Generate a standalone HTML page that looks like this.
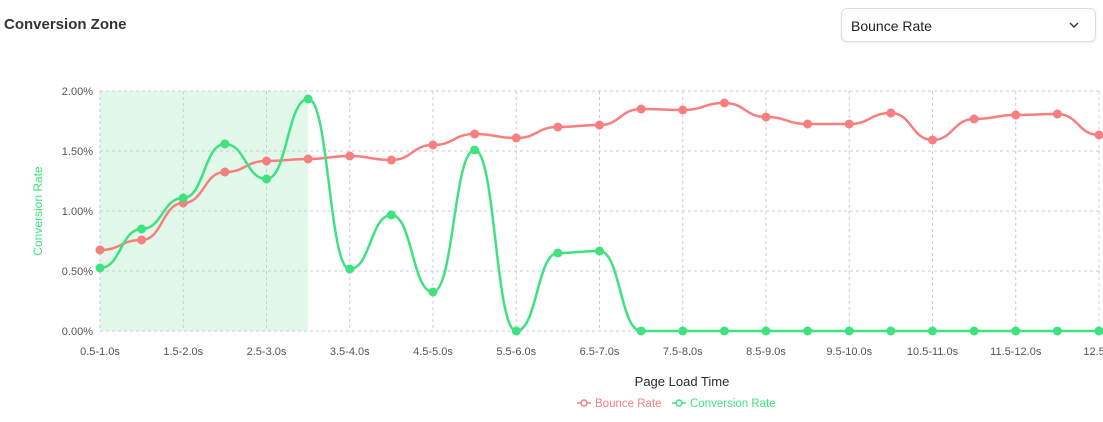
<!DOCTYPE html>
<html><head><meta charset="utf-8">
<style>
html,body{margin:0;padding:0;background:#fff;width:1103px;height:422px;overflow:hidden;font-family:"Liberation Sans",sans-serif}
.title{position:absolute;left:4px;top:16px;font-size:15px;font-weight:bold;color:#333}
.dd{position:absolute;left:841px;top:8px;width:253px;height:32px;border:1px solid #ddd;border-radius:6px;box-shadow:0 1px 2px rgba(0,0,0,.08)}
.dd span{position:absolute;left:9px;top:9px;font-size:14px;color:#222}
</style></head><body>
<div class="title">Conversion Zone</div>
<div class="dd"><span>Bounce Rate</span><svg style="position:absolute;left:226px;top:11px" width="12" height="10"><path d="M2 3 L6 7 L10 3" fill="none" stroke="#333" stroke-width="1.4"/></svg></div>
<svg id="c" width="1103" height="422" style="position:absolute;left:0;top:0"></svg>
<script>
const X0=100,DX=41.625,Y0=331;
const b=[250,240,203,172,161,159,156,160,145,134,138,127,125,109,110,103,117,124,124,113,140,119,115,114,135];
const c=[268,229,198,144,179,99,269,215,292,150,331,253,251,331,331,331,331,331,331,331,331,331,331,331,331];
const labels=["0.5-1.0s","1.5-2.0s","2.5-3.0s","3.5-4.0s","4.5-5.0s","5.5-6.0s","6.5-7.0s","7.5-8.0s","8.5-9.0s","9.5-10.0s","10.5-11.0s","11.5-12.0s","12.5-1"];
let s='';
s+=`<rect x="100" y="91" width="${5*DX}" height="240" fill="#e2f8eb"/>`;
for(let i=0;i<5;i++){const y=91+i*60;s+=`<line x1="100" x2="1100" y1="${y}" y2="${y}" stroke="#c8ccd0" stroke-dasharray="3,3"/>`;
s+=`<text x="93" y="${y+4}" text-anchor="end" font-size="11" fill="#555">${(2-i*0.5).toFixed(2)}%</text>`;}
for(let i=0;i<13;i++){const x=X0+i*2*DX;s+=`<line x1="${x}" x2="${x}" y1="91" y2="331" stroke="#c8ccd0" stroke-dasharray="3,3"/>`;
s+=`<text x="${x}" y="355" text-anchor="middle" font-size="11" fill="#555">${labels[i]}</text>`;}
function path(d){let p=`M${X0},${d[0]}`;for(let i=0;i<d.length-1;i++){const x1=X0+i*DX,x2=x1+DX;p+=` C${x1+DX/2},${d[i]} ${x2-DX/2},${d[i+1]} ${x2},${d[i+1]}`;}return p;}
s+=`<path d="${path(b)}" fill="none" stroke="#f77f7f" stroke-width="2.5"/>`;
b.forEach((y,i)=>s+=`<circle cx="${X0+i*DX}" cy="${y}" r="4.5" fill="#f77f7f"/>`);
s+=`<path d="${path(c)}" fill="none" stroke="#3ee27f" stroke-width="2.5"/>`;
c.forEach((y,i)=>s+=`<circle cx="${X0+i*DX}" cy="${y}" r="4.5" fill="#3ee27f"/>`);
s+=`<text x="42" y="211" transform="rotate(-90 42 211)" text-anchor="middle" font-size="12" fill="#3ee27f">Conversion Rate</text>`;
s+=`<text x="682" y="386" text-anchor="middle" font-size="13" fill="#1d2b36">Page Load Time</text>`;
s+=`<line x1="577" x2="591" y1="403" y2="403" stroke="#f77f7f" stroke-width="1.5"/><circle cx="584" cy="403" r="3" fill="#fff" stroke="#f77f7f" stroke-width="1.5"/><text x="595" y="407" font-size="11.5" fill="#f77f7f">Bounce Rate</text>`;
s+=`<line x1="672" x2="686" y1="403" y2="403" stroke="#3ee27f" stroke-width="1.5"/><circle cx="679" cy="403" r="3" fill="#fff" stroke="#3ee27f" stroke-width="1.5"/><text x="690" y="407" font-size="11.5" fill="#3ee27f">Conversion Rate</text>`;
document.getElementById('c').innerHTML=s;
</script>
</body></html>
